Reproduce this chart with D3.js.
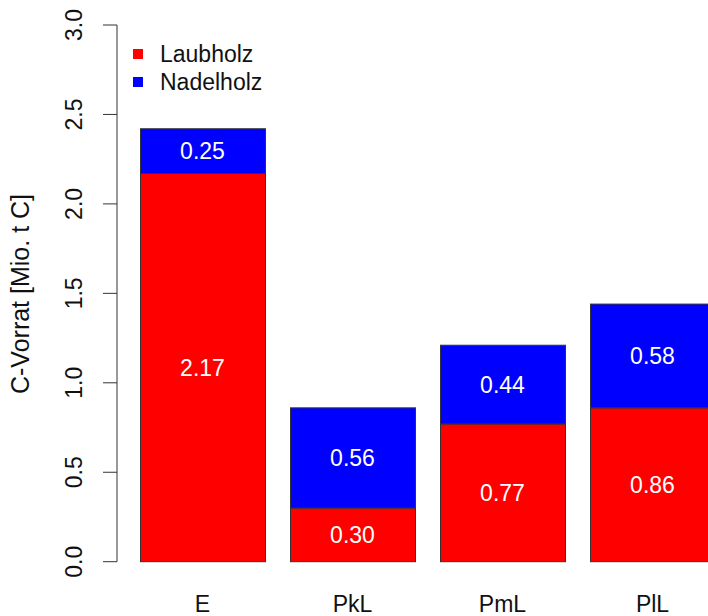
<!DOCTYPE html>
<html>
<head>
<meta charset="utf-8">
<script src="https://cdn.jsdelivr.net/npm/d3@7"></script>
<style>
  html, body { margin: 0; padding: 0; background: #fff; }
  svg { display: block; font-family: "Liberation Sans", Arial, Helvetica, sans-serif; }
</style>
</head>
<body>
<svg id="chart" width="708" height="616"></svg>
<script>
const categories = ["E", "PkL", "PmL", "PlL"];
const laubholz = [2.17, 0.30, 0.77, 0.86];
const nadelholz = [0.25, 0.56, 0.44, 0.58];
const seriesNames = ["Laubholz", "Nadelholz"];
const seriesColors = ["#ff0000", "#0000ff"];
const yTicks = [0, 0.5, 1, 1.5, 2, 2.5, 3];
const yLabel = "C-Vorrat [Mio. t C]";

const svg = d3.select("#chart");
const fs = 23;

const x = d3.scaleBand().domain(categories).range([140, 715]).paddingInner(25 / 150).paddingOuter(0);
const y = d3.scaleLinear().domain([0, 3]).range([561.7, 25]);

const rows = categories.map((c, i) => ({ cat: c, Laubholz: laubholz[i], Nadelholz: nadelholz[i] }));
const stacked = d3.stack().keys(seriesNames)(rows);

// Bars
stacked.forEach((layer, li) => {
  const g = svg.append("g");
  g.selectAll("rect").data(layer).join("rect")
    .attr("x", d => x(d.data.cat) + 0.5)
    .attr("y", d => y(d[1]))
    .attr("width", x.bandwidth())
    .attr("height", d => y(d[0]) - y(d[1]))
    .attr("fill", seriesColors[li])
    .attr("stroke", "#333")
    .attr("stroke-width", 1);
  g.selectAll("text").data(layer).join("text")
    .attr("x", d => x(d.data.cat) + x.bandwidth() / 2)
    .attr("y", d => (y(d[0]) + y(d[1])) / 2)
    .attr("text-anchor", "middle")
    .attr("dominant-baseline", "central")
    .attr("fill", "#fff")
    .attr("font-size", fs)
    .text(d => (d[1] - d[0]).toFixed(2));
});

// Y axis
const axisX = 117;
const ya = svg.append("g");
ya.append("line")
  .attr("x1", axisX).attr("x2", axisX)
  .attr("y1", y(0)).attr("y2", y(3))
  .attr("stroke", "#333").attr("stroke-width", 1);
ya.selectAll("line.tick").data(yTicks).join("line")
  .attr("class", "tick")
  .attr("x1", axisX - 14).attr("x2", axisX)
  .attr("y1", d => y(d)).attr("y2", d => y(d))
  .attr("stroke", "#333").attr("stroke-width", 1);
ya.selectAll("text").data(yTicks).join("text")
  .attr("transform", d => `translate(74,${y(d)}) rotate(-90)`)
  .attr("text-anchor", "middle")
  .attr("dominant-baseline", "central")
  .attr("font-size", fs)
  .attr("fill", "#111")
  .text(d => d.toFixed(1));

svg.append("text")
  .attr("transform", `translate(20,294) rotate(-90)`)
  .attr("text-anchor", "middle")
  .attr("dominant-baseline", "central")
  .attr("font-size", 25)
  .attr("fill", "#111")
  .text(yLabel);

// X category labels
svg.append("g").selectAll("text").data(categories).join("text")
  .attr("x", d => x(d) + x.bandwidth() / 2)
  .attr("y", 604)
  .attr("text-anchor", "middle")
  .attr("dominant-baseline", "central")
  .attr("font-size", fs)
  .attr("fill", "#111")
  .text(d => d);

// Legend
const leg = svg.append("g");
seriesNames.forEach((name, i) => {
  const cy = 54 + i * 28;
  leg.append("rect")
    .attr("x", 133).attr("y", cy - 5)
    .attr("width", 10).attr("height", 10)
    .attr("fill", seriesColors[i]);
  leg.append("text")
    .attr("x", 160).attr("y", cy)
    .attr("dominant-baseline", "central")
    .attr("font-size", fs)
    .attr("fill", "#111")
    .text(name);
});
</script>
</body>
</html>
